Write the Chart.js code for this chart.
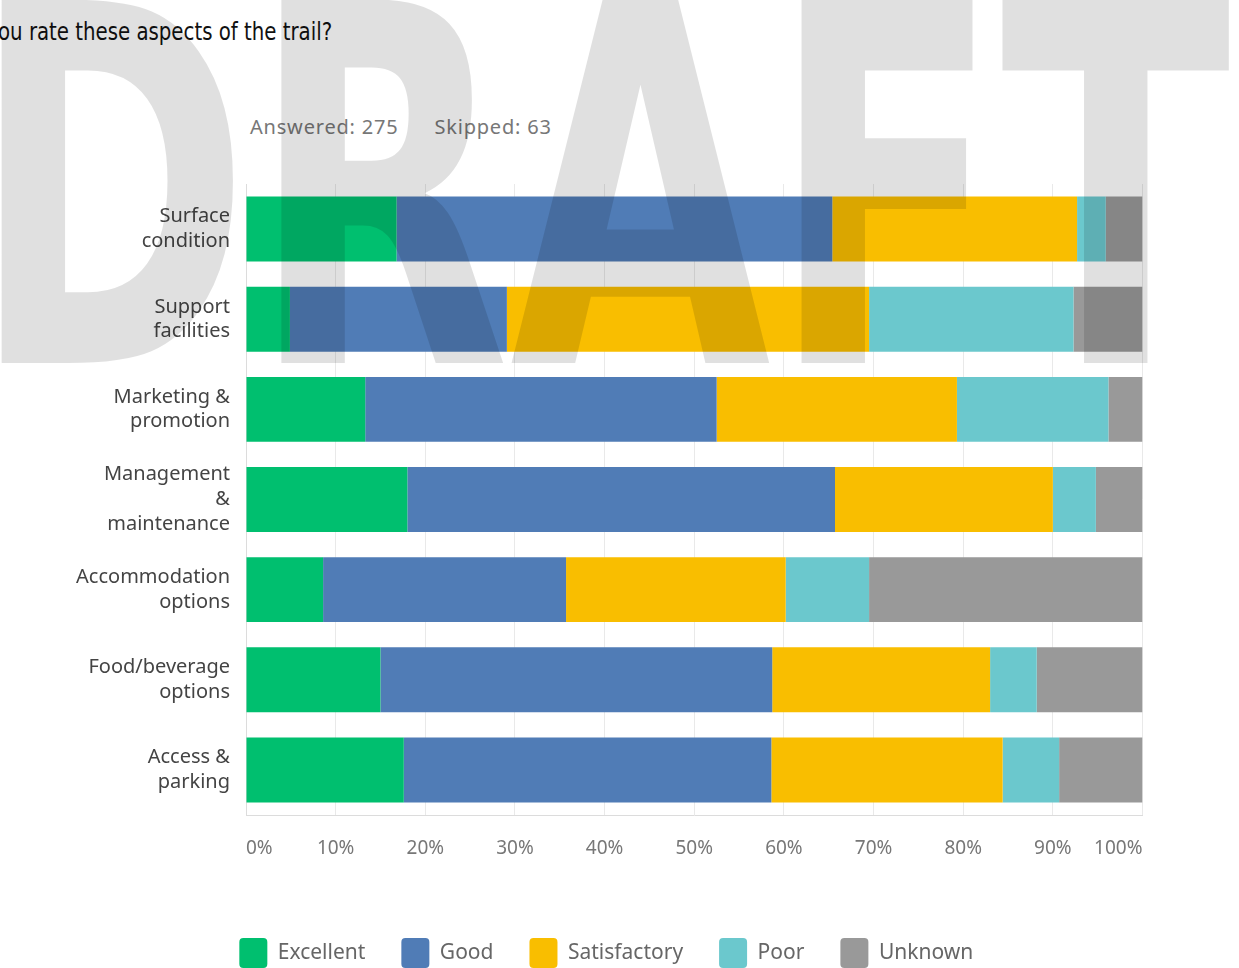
<!DOCTYPE html>
<html lang="en">
<head>
<meta charset="utf-8">
<title>How would you rate these aspects of the trail?</title>
<script src="https://cdn.jsdelivr.net/npm/chart.js@4.4.1/dist/chart.umd.min.js"></script>
<style>
    html, body { margin: 0; padding: 0; background: #fff; overflow: hidden; }
    body { width: 1239px; height: 968px; position: relative; }
    .question {
        position: absolute; left: -2px; top: 18px;
        font-family: "Liberation Sans Narrow", "DejaVu Sans Condensed", sans-serif;
        font-size: 24px; color: #111; white-space: nowrap;
        transform: scaleX(0.915); transform-origin: left top;
    }
    .counts {
        position: absolute; left: 250px; top: 113px;
        font-family: "Noto Sans", sans-serif; font-size: 20px; letter-spacing: 0.8px;
        color: #777; white-space: nowrap;
    }
    .counts span + span { margin-left: 36px; }
    .chart-box { position: absolute; left: 0; top: 0; width: 1239px; height: 978px; }
</style>
</head>
<body>
<div class="question">ou rate these aspects of the trail?</div>
<div class="counts"><span>Answered: 275</span><span>Skipped: 63</span></div>
<div class="chart-box"><canvas id="ratingChart"></canvas></div>
<script>
// Data (percent of answers)
const aspects = [
    ['Surface', 'condition'],
    ['Support', 'facilities'],
    ['Marketing &', 'promotion'],
    ['Management', '&', 'maintenance'],
    ['Accommodation', 'options'],
    ['Food/beverage', 'options'],
    ['Access &', 'parking']
];
const excellent    = [16.8,  4.9, 13.3, 18.0,  8.6, 15.0, 17.6];
const good         = [48.6, 24.2, 39.2, 47.7, 27.1, 43.7, 41.0];
const satisfactory = [27.3, 40.4, 26.8, 24.3, 24.5, 24.3, 25.8];
const poor         = [ 3.2, 22.8, 16.9,  4.8,  9.3,  5.2,  6.3];
const unknown      = [ 4.1,  7.7,  3.8,  5.2, 30.5, 11.8,  9.3];

const ratingLabels = ['Excellent', 'Good', 'Satisfactory', 'Poor', 'Unknown'];
const ratingColors = ['#00BF6F', '#507CB6', '#F9BE00', '#6BC8CD', '#999999'];

// "DRAFT" stamp over the whole page
const draftWatermark = {
    id: 'draftWatermark',
    afterDraw(chart) {
        const ctx = chart.ctx;
        ctx.save();
        ctx.font = 'bold 400px "DejaVu Sans Condensed", "DejaVu Sans", sans-serif';
        ctx.textAlign = 'left';
        ctx.textBaseline = 'alphabetic';
        const m = ctx.measureText('DRAFT');
        const w = m.actualBoundingBoxLeft + m.actualBoundingBoxRight;
        const h = m.actualBoundingBoxAscent;
        ctx.translate(0, 363);
        ctx.scale(1229 / w, 366 / h);
        ctx.fillStyle = 'rgba(0, 0, 0, 0.12)';
        ctx.fillText('DRAFT', m.actualBoundingBoxLeft, 0);
        ctx.restore();
    }
};

function makeDataset(i, values) {
    return {
        label: ratingLabels[i],
        data: values,
        backgroundColor: ratingColors[i],
        borderWidth: 0,
        barPercentage: 0.72,
        categoryPercentage: 1
    };
}

const ctx = document.getElementById('ratingChart').getContext('2d');
const ratingChart = new Chart(ctx, {
    type: 'bar',
    data: {
        labels: aspects,
        datasets: [
            makeDataset(0, excellent),
            makeDataset(1, good),
            makeDataset(2, satisfactory),
            makeDataset(3, poor),
            makeDataset(4, unknown)
        ]
    },
    options: {
        indexAxis: 'y',
        responsive: true,
        maintainAspectRatio: false,
        animation: false,
        layout: {
            padding: { left: 70, right: 96.5, top: 184, bottom: 0 }
        },
        scales: {
            x: {
                stacked: true,
                min: 0,
                max: 100,
                ticks: {
                    stepSize: 10,
                    align: 'inner',
                    padding: 22,
                    color: '#777',
                    font: { family: 'Noto Sans', size: 19 },
                    callback: v => v + '%'
                },
                grid: { color: '#e9e9e9', drawTicks: false },
                border: { color: '#dcdcdc' },
                afterFit: scale => { scale.height = 87; }
            },
            y: {
                stacked: true,
                ticks: {
                    padding: 16,
                    color: '#444',
                    font: { family: 'Noto Sans', size: 20, lineHeight: 1.24 }
                },
                grid: { display: false, drawTicks: false },
                border: { display: true, color: '#dcdcdc' },
                afterFit: scale => { scale.width = 176; }
            }
        },
        plugins: {
            legend: {
                position: 'bottom',
                labels: {
                    boxWidth: 28,
                    boxHeight: 30,
                    useBorderRadius: true,
                    borderRadius: 4,
                    padding: 36,
                    color: '#666',
                    font: { family: 'Noto Sans', size: 21 }
                }
            },
            tooltip: { enabled: false }
        }
    },
    plugins: [draftWatermark]
});
</script>
</body>
</html>
